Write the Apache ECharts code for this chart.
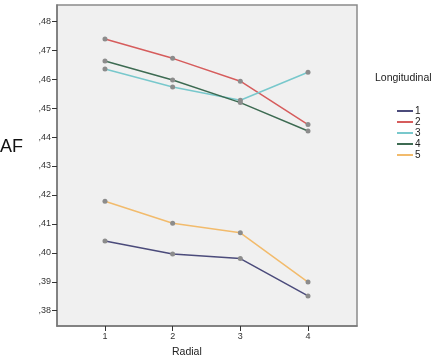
<!DOCTYPE html>
<html>
<head>
<meta charset="utf-8">
<script src="https://cdn.jsdelivr.net/npm/echarts@6/dist/echarts.min.js"></script>
<style>html,body{margin:0;padding:0;background:#fff}#c{width:432px;height:360px}</style>
</head>
<body>
<div id="c"></div>
<script>
var radial = [1, 2, 3, 4];
var seriesNames = ['1', '2', '3', '4', '5'];
var long1 = [0.4041, 0.3996, 0.3980, 0.3851];
var long2 = [0.4739, 0.4672, 0.4593, 0.4443];
var long3 = [0.4635, 0.4573, 0.4527, 0.4624];
var long4 = [0.4663, 0.4597, 0.4519, 0.4421];
var long5 = [0.4178, 0.4102, 0.4069, 0.3899];
var yTicks = [0.38, 0.39, 0.40, 0.41, 0.42, 0.43, 0.44, 0.45, 0.46, 0.47, 0.48];
var xTicks = [1, 2, 3, 4];

var colors = ['#4b4b7b', '#d65c5c', '#78c8cc', '#3d6b52', '#f2bb6c'];
var values = [long1, long2, long3, long4, long5];
var font = 'Liberation Sans, Arial, sans-serif';

var chart = echarts.init(document.getElementById('c'));
var series = seriesNames.map(function (n, i) {
  return {
    name: n,
    type: 'line',
    data: radial.map(function (x, j) { return [x, values[i][j]]; }),
    symbol: 'circle',
    symbolSize: 5,
    itemStyle: { color: '#8c8c8c' },
    lineStyle: { color: colors[i], width: 1.5 },
    z: 2 + i
  };
});
chart.setOption({
  animation: false,
  grid: {
    left: 57, right: 75, top: 5, bottom: 34,
    show: true, backgroundColor: '#f0f0f0',
    borderColor: '#8a8a8a', borderWidth: 1.5
  },
  xAxis: {
    type: 'value', min: 0.291, max: 4.724,
    splitLine: { show: false },
    axisLine: { show: true, onZero: false, lineStyle: { color: '#777', width: 1.5 } },
    axisTick: { show: true, length: 5, customValues: xTicks, lineStyle: { color: '#333' } },
    axisLabel: { customValues: xTicks, color: '#333', fontSize: 9, fontFamily: font, margin: 6 }
  },
  yAxis: {
    type: 'value', min: 0.37471, max: 0.48563,
    splitLine: { show: false },
    axisLine: { show: true, onZero: false, lineStyle: { color: '#777', width: 1.5 } },
    axisTick: { show: true, length: 5, customValues: yTicks, lineStyle: { color: '#333' } },
    axisLabel: {
      customValues: yTicks, color: '#333', fontSize: 9, fontFamily: font, margin: 6,
      formatter: function (v) { return ',' + Math.round(v * 100); }
    }
  },
  legend: {
    orient: 'vertical', left: 392, top: 100.5,
    icon: 'rect', itemWidth: 16, itemHeight: 2, itemGap: 0,
    textStyle: { fontSize: 10, lineHeight: 11, color: '#222', fontFamily: font, padding: [0, 0, 0, -3] },
    data: seriesNames.map(function (n, i) { return { name: n, itemStyle: { color: colors[i] } }; })
  },
  graphic: [
    { type: 'text', left: 375, top: 73, style: { text: 'Longitudinal', fontSize: 10.5, fill: '#222', fontFamily: font } },
    { type: 'text', left: 0, top: 138, style: { text: 'AF', fontSize: 18, fill: '#111', fontFamily: font } },
    { type: 'text', left: 172, top: 347, style: { text: 'Radial', fontSize: 10.5, fill: '#222', fontFamily: font } }
  ],
  series: series
});
</script>
</body>
</html>
